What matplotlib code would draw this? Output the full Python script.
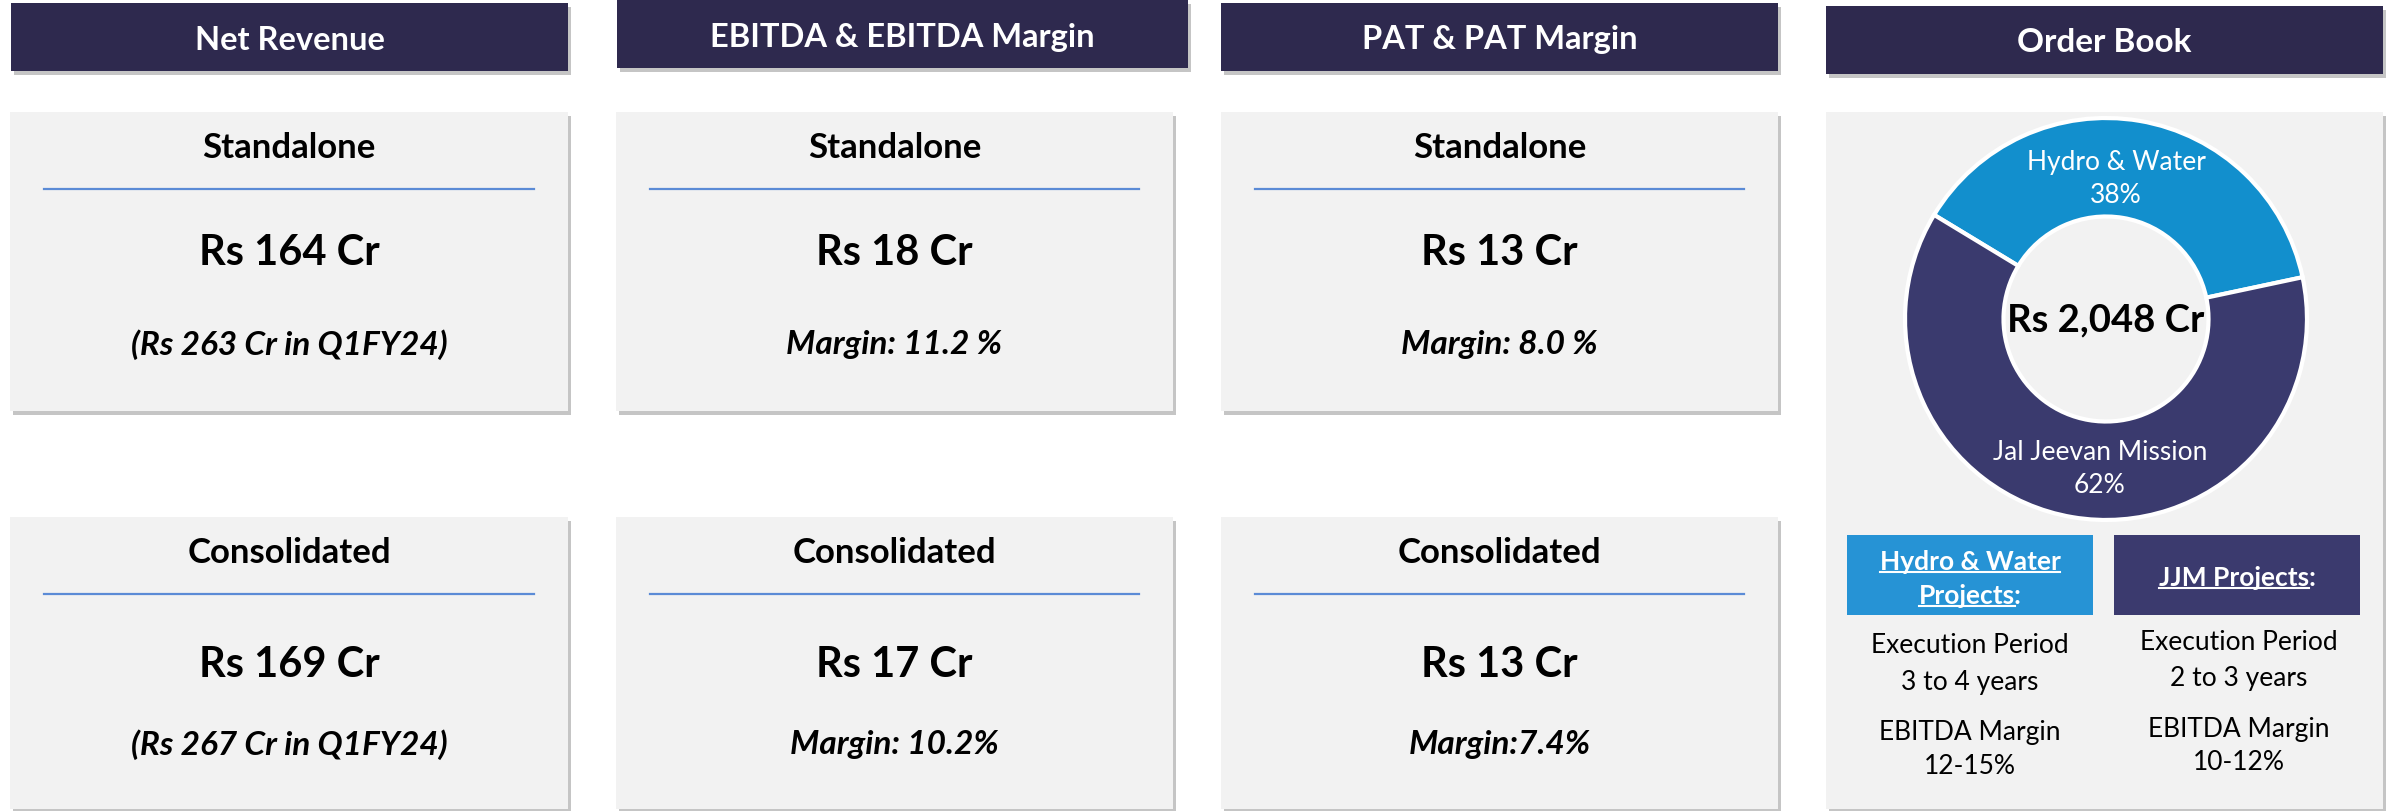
import matplotlib.pyplot as plt
from matplotlib.patches import Rectangle
import matplotlib.patheffects as pe

plt.rcParams['font.family'] = ['Lato', 'DejaVu Sans']

# Данные
headers = ["Net Revenue", "EBITDA & EBITDA Margin", "PAT & PAT Margin"]
standalone_values = ["Rs 164 Cr", "Rs 18 Cr", "Rs 13 Cr"]
standalone_notes = ["(Rs 263 Cr in Q1FY24)", "Margin: 11.2 %", "Margin: 8.0 %"]
consolidated_values = ["Rs 169 Cr", "Rs 17 Cr", "Rs 13 Cr"]
consolidated_notes = ["(Rs 267 Cr in Q1FY24)", "Margin: 10.2%", "Margin:7.4%"]

order_title = "Order Book"
order_total = "Rs 2,048 Cr"
order_segments = ["Hydro & Water", "Jal Jeevan Mission"]
order_shares = [38, 62]
project_titles = [["Hydro & Water", "Projects"], ["JJM Projects"]]
project_period = ["3 to 4 years", "2 to 3 years"]
project_margin = ["12-15%", "10-12%"]

# Цвета
navy = '#2e294e'
card = '#f2f2f2'
sep = '#5b8bd6'
donut_colors = ['#128fcd', '#3a3a6e']
project_colors = ['#2693d5', '#3b3a6e']

W, H = 2394, 812
fig = plt.figure(figsize=(W / 100, H / 100), dpi=100)
ax = fig.add_axes([0, 0, 1, 1])
ax.set_xlim(0, W)
ax.set_ylim(H, 0)
ax.axis('off')

shadow = [pe.withSimplePatchShadow(offset=(2, -3), shadow_rgbFace='#808080', alpha=0.45)]


def box(x0, y0, x1, y1, color):
    ax.add_patch(Rectangle((x0, y0), x1 - x0, y1 - y0, facecolor=color,
                           edgecolor='none', path_effects=shadow))


# колонки
col_box = [(10, 568), (616, 1173), (1221, 1778)]
col_head = [(11, 568, 4, 72), (617, 1188, 1, 69), (1221, 1778, 4, 72)]

for i in range(3):
    hx0, hx1, hy0, hy1 = col_head[i]
    box(hx0, hy0, hx1, hy1, navy)
    ax.text((hx0 + hx1) / 2, (hy0 + hy1) / 2 + 2, headers[i], color='white',
            fontsize=23.5, fontweight='bold', ha='center', va='center')

    bx0, bx1 = col_box[i]
    cx = (bx0 + bx1) / 2
    rows = [(113, 412, "Standalone", standalone_values[i], standalone_notes[i], 140, 232),
            (518, 810, "Consolidated", consolidated_values[i], consolidated_notes[i], 147, 227)]
    for y0, y1, name, val, note, vy, ny in rows:
        box(bx0, y0, bx1, y1, card)
        ax.text(cx, y0 + 35, name, fontsize=25, fontweight='bold', ha='center', va='center')
        ax.plot([bx0 + 34, bx1 - 34], [y0 + 77, y0 + 77], color=sep, lw=1.6)
        ax.text(cx, y0 + vy, val, fontsize=30, fontweight='bold', ha='center', va='center')
        ax.text(cx, y0 + ny, note, fontsize=24, fontweight='bold',
                fontstyle='italic', ha='center', va='center')

# Order Book
box(1826, 7, 2383, 75, navy)
ax.text(2104, 43, order_title, color='white', fontsize=24, fontweight='bold',
        ha='center', va='center')
box(1826, 113, 2383, 810, card)

cx, cy, R = 2106, 320, 205
pax = fig.add_axes([(cx - R) / W, (H - cy - R) / H, 2 * R / W, 2 * R / H])
wedges, texts = pax.pie(order_shares, colors=donut_colors, startangle=12, radius=1,
                        labels=[f"{n}\n{s}%" for n, s in zip(order_segments, order_shares)],
                        labeldistance=0.71,
                        wedgeprops=dict(width=0.49, edgecolor='white', linewidth=3),
                        textprops=dict(color='white', fontsize=19, linespacing=1.4))
label_pos = [(0.05, 0.70), (-0.03, -0.74)]
for t, p in zip(texts, label_pos):
    t.set_position(p)
    t.set_ha('center')
    t.set_va('center')
pax.set_xlim(-1.02, 1.02)
pax.set_ylim(-1.02, 1.02)
pax.set_aspect('equal')
pax.axis('off')
ax.text(cx, cy, order_total, fontsize=27.5, fontweight='bold', ha='center', va='center')

# проекты
proj_box = [(1847, 2093), (2114, 2360)]
for i in range(2):
    x0, x1 = proj_box[i]
    ax.add_patch(Rectangle((x0, 536), x1 - x0, 80, facecolor=project_colors[i], edgecolor='none'))

fig.canvas.draw()
rend = fig.canvas.get_renderer()
inv = ax.transData.inverted()


def underlined(x, y, word, colon):
    t = ax.text(x, y, word + (":" if colon else ""), color='white', fontsize=19,
                fontweight='bold', ha='center', va='baseline')
    bb = t.get_window_extent(rend)
    w_extra = 0
    if colon:
        tmp = ax.text(0, 0, ":", fontsize=19, fontweight='bold')
        w_extra = tmp.get_window_extent(rend).width
        tmp.remove()
    (lx0, _), (lx1, _) = inv.transform([[bb.x0, bb.y0], [bb.x1 - w_extra, bb.y0]])
    ax.plot([lx0, lx1], [y + 3, y + 3], color='white', lw=1.5)


underlined(1970, 570, project_titles[0][0], False)
underlined(1970, 604, project_titles[0][1], True)
underlined(2237, 586, project_titles[1][0], True)

info_y = [(646, 683, 733, 767), (643, 679, 730, 763)]
info_x = [1970, 2239]
for i in range(2):
    ys = info_y[i]
    lines = ["Execution Period", project_period[i], "EBITDA Margin", project_margin[i]]
    for yy, s in zip(ys, lines):
        ax.text(info_x[i], yy, s, fontsize=19, ha='center', va='center')

fig.savefig('out.png', dpi=100, facecolor='white')
